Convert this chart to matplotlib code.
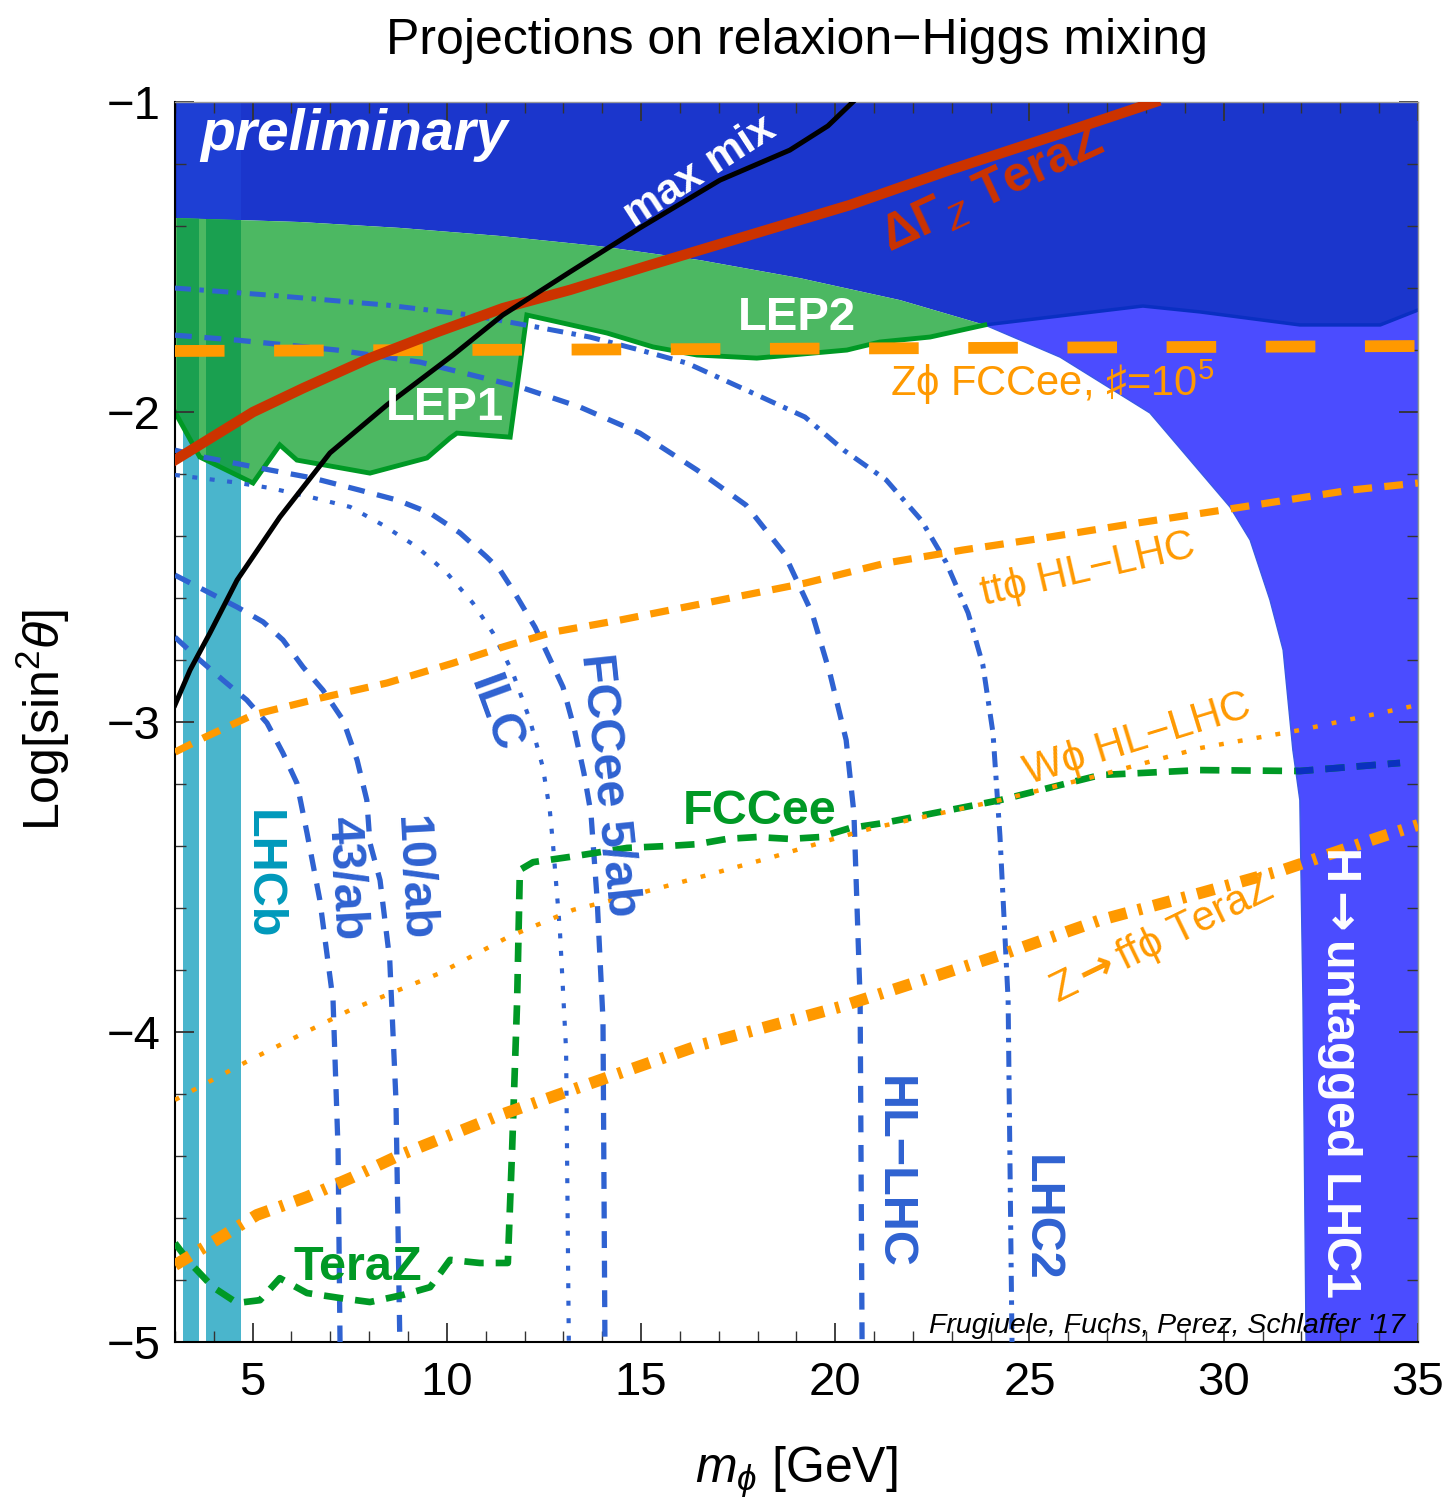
import matplotlib
matplotlib.use("Agg")
import matplotlib.pyplot as plt
from matplotlib.patches import Polygon
from matplotlib.ticker import MultipleLocator

plt.rcParams['font.family'] = ['Liberation Sans', 'DejaVu Sans']
plt.rcParams['mathtext.fontset'] = 'custom'
plt.rcParams['mathtext.rm'] = 'Liberation Sans'
plt.rcParams['mathtext.it'] = 'Liberation Sans:italic'
plt.rcParams['mathtext.bf'] = 'Liberation Sans:bold'
plt.rcParams['mathtext.sf'] = 'DejaVu Sans:bold'

# ---- regions (m_phi [GeV], Log[sin^2 theta]) ----
lep_top_x = [3.00, 6.22, 8.79, 11.37, 13.94, 16.52, 19.09, 21.67, 23.85]
lep_top_y = [-1.374, -1.387, -1.406, -1.432, -1.465, -1.510, -1.568, -1.639, -1.719]

lep_bot_x = [23.85, 22.44, 21.15, 20.30, 17.98, 16.44, 15.31, 14.12, 12.99, 12.06,
             11.63, 10.26, 10.08, 9.49, 8.02, 6.14, 5.70, 5.01, 3.64, 3.00]
lep_bot_y = [-1.719, -1.758, -1.774, -1.800, -1.826, -1.816, -1.790, -1.745, -1.713, -1.687,
             -2.081, -2.068, -2.084, -2.148, -2.197, -2.155, -2.106, -2.229, -2.145, -2.000]

# boundary between old exclusion (top) and H->untagged LHC1
lhc1_top_x = [23.85, 27.92, 29.39, 31.96, 34.03, 35.0]
lhc1_top_y = [-1.719, -1.658, -1.677, -1.719, -1.719, -1.671]
# left edge of H->untagged LHC1
lhc1_edge_x = [23.85, 25.79, 28.10, 30.16, 30.68, 31.19, 31.53, 31.78, 31.96, 32.04, 32.12]
lhc1_edge_y = [-1.719, -1.823, -2.003, -2.306, -2.413, -2.606, -2.768, -3.090, -3.252, -3.897, -5.0]

lhcb_bands = [(3.21, 3.62), (3.80, 4.70)]

# ---- curves ----
maxmix_x = [3.00, 3.39, 3.90, 4.60, 5.70, 6.99, 8.46, 10.16, 11.44, 13.17, 14.97, 17.03, 18.83, 19.81, 20.45]
maxmix_y = [-2.945, -2.832, -2.713, -2.542, -2.339, -2.132, -1.977, -1.816, -1.687, -1.548, -1.406,
            -1.252, -1.155, -1.077, -1.0]

gz_x = [3.00, 5.01, 6.30, 8.02, 9.75, 11.44, 13.17, 15.23, 17.80, 20.38, 22.95, 25.53, 28.23]
gz_y = [-2.155, -2.000, -1.923, -1.826, -1.742, -1.665, -1.606, -1.526, -1.429, -1.332, -1.219, -1.113, -1.0]

zphi_x = [3.0, 16.5, 35.0]
zphi_y = [-1.803, -1.797, -1.787]

tt_x = [3.00, 3.72, 5.01, 6.73, 8.46, 10.16, 11.44, 12.73, 14.46, 19.22, 21.31, 23.29, 25.53, 27.41,
        29.98, 33.25, 35.0]
tt_y = [-3.097, -3.052, -2.977, -2.923, -2.874, -2.810, -2.758, -2.710, -2.671, -2.552, -2.487, -2.445,
        -2.403, -2.365, -2.316, -2.252, -2.229]

w_x = [3.00, 4.93, 7.51, 9.82, 11.57, 13.25, 14.97, 16.70, 18.40, 20.12, 20.97, 24.24, 26.82, 29.39,
       31.96, 35.0]
w_y = [-4.219, -4.090, -3.929, -3.810, -3.694, -3.606, -3.552, -3.494, -3.435, -3.371, -3.342, -3.252,
       -3.171, -3.084, -3.026, -2.945]

zff_x = [3.00, 3.98, 5.11, 6.40, 7.58, 8.79, 11.37, 13.94, 16.52, 20.12, 21.23, 24.24, 26.82, 29.39,
         31.53, 34.03, 35.0]
zff_y = [-4.752, -4.677, -4.590, -4.532, -4.468, -4.397, -4.268, -4.155, -4.042, -3.919, -3.874, -3.752,
         -3.639, -3.552, -3.477, -3.371, -3.332]

fcc_x = [3.00, 3.39, 3.98, 4.60, 5.19, 5.70, 6.40, 7.25, 8.02, 8.87, 9.57, 10.08, 10.85, 11.57, 11.68,
         11.81, 11.88, 12.22, 13.17, 14.64, 15.67, 16.44, 17.21, 17.98, 18.83, 19.61, 20.38, 21.23,
         24.24, 26.82, 29.39, 31.96, 34.54]
fcc_y = [-4.681, -4.745, -4.823, -4.874, -4.865, -4.794, -4.842, -4.858, -4.871, -4.848, -4.823, -4.735,
         -4.745, -4.745, -4.381, -3.897, -3.477, -3.452, -3.435, -3.406, -3.400, -3.394, -3.377, -3.371,
         -3.377, -3.371, -3.342, -3.326, -3.252, -3.171, -3.155, -3.158, -3.132]

lhc2_x = [3.00, 5.45, 8.46, 10.60, 12.32, 13.68, 14.97, 16.18, 17.88, 19.22, 20.22, 21.31, 22.21, 22.85,
          23.42, 23.80, 24.06, 24.24, 24.45, 24.55]
lhc2_y = [-1.600, -1.623, -1.655, -1.687, -1.726, -1.758, -1.800, -1.842, -1.939, -2.016, -2.123, -2.219,
          -2.348, -2.484, -2.648, -2.816, -3.035, -3.368, -3.897, -5.0]

hllhc_x = [3.00, 4.60, 7.17, 9.31, 10.85, 11.88, 13.43, 14.97, 16.44, 17.70, 18.68, 19.40, 19.86, 20.28,
           20.48, 20.64, 20.69]
hllhc_y = [-1.752, -1.768, -1.800, -1.839, -1.887, -1.919, -1.984, -2.068, -2.187, -2.300, -2.455, -2.648,
           -2.842, -3.058, -3.294, -3.897, -5.0]

fcc5_x = [3.00, 3.72, 5.45, 6.55, 7.76, 8.72, 9.57, 10.34, 11.03, 11.37, 11.70, 12.27, 12.99, 13.27,
          13.53, 13.71, 13.87, 14.02, 14.07]
fcc5_y = [-2.123, -2.145, -2.187, -2.213, -2.252, -2.284, -2.326, -2.390, -2.468, -2.510, -2.574, -2.694,
          -2.887, -3.016, -3.165, -3.294, -3.574, -3.961, -5.0]

ilc_x = [3.00, 4.49, 5.45, 6.48, 7.51, 8.36, 9.23, 10.00, 10.67, 11.19, 11.70, 12.14, 12.47, 12.65,
         12.73, 12.91, 13.07, 13.14]
ilc_y = [-2.203, -2.226, -2.245, -2.274, -2.306, -2.365, -2.435, -2.519, -2.616, -2.713, -2.842, -2.994,
         -3.145, -3.284, -3.390, -3.671, -4.058, -5.0]

ab10_x = [3.00, 4.60, 5.27, 5.78, 6.30, 6.81, 7.33, 7.69, 7.94, 8.02, 8.28, 8.53, 8.69, 8.79]
ab10_y = [-2.526, -2.629, -2.677, -2.735, -2.823, -2.897, -2.994, -3.123, -3.252, -3.390, -3.510, -3.768,
          -4.219, -5.0]

ab43_x = [3.00, 3.64, 4.24, 4.85, 5.37, 5.78, 6.14, 6.40, 6.73, 7.07, 7.20, 7.25]
ab43_y = [-2.726, -2.800, -2.865, -2.929, -3.003, -3.100, -3.197, -3.358, -3.574, -3.897, -4.381, -5.0]

dark_blue = '#1b36cc'
light_blue = '#4b4cff'
green_fill = '#4cb862'
green_line = '#009925'
cyan = '#4ab5cc'
blue_line = '#2f62d1'
orange = '#ff9900'
red = '#cc3300'

fig = plt.figure(figsize=(14.47, 15.03), dpi=100)
ax = fig.add_axes([0.1209, 0.1071, 0.8590, 0.8250])
ax.set_xlim(3, 35)
ax.set_ylim(-5, -1)

# LHCb bands (only visible in the white part)
for lo, hi in lhcb_bands:
    ax.axvspan(lo, hi, color=cyan, lw=0, zorder=0.5)

# H -> untagged LHC1
lb_pts = list(zip(lhc1_edge_x, lhc1_edge_y)) + [(35, -5), (35, -1), (23.85, -1)]
lb_patch = Polygon(lb_pts, closed=True, facecolor=light_blue, edgecolor='#3a5ae6', lw=1, zorder=1)
ax.add_patch(lb_patch)

# present exclusion (top)
db_pts = [(3, -1), (35, -1)] + list(zip(lhc1_top_x[::-1], lhc1_top_y[::-1])) + \
    list(zip(lep_top_x[::-1], lep_top_y[::-1]))
db_patch = Polygon(db_pts, closed=True, facecolor=dark_blue, edgecolor='none', zorder=1.1)
ax.add_patch(db_patch)
ax.plot(lhc1_top_x, lhc1_top_y, color='#0a2fc2', lw=2.5, zorder=1.15)

# LEP
lep_pts = list(zip(lep_top_x, lep_top_y)) + list(zip(lep_bot_x, lep_bot_y))
lep_patch = Polygon(lep_pts, closed=True, facecolor=green_fill, edgecolor='none', zorder=1.2)
ax.add_patch(lep_patch)
ax.plot(lep_bot_x, lep_bot_y, color=green_line, lw=3.5, zorder=1.3, solid_joinstyle='miter')

# LHCb band seen through the other regions
for lo, hi in [(3.05, 3.62), (3.80, 4.70)]:
    r = ax.axvspan(lo, hi, color='#1aa050', lw=0, zorder=1.25)
    r.set_clip_path(lep_patch)
r = ax.axvspan(3.05, 4.70, color='#1e3fd4', lw=0, zorder=1.15)
r.set_clip_path(db_patch)

# blue projections
dash_b = (0, (3.2, 2.4))
ax.plot(lhc2_x, lhc2_y, color=blue_line, lw=3.6, ls=(0, (3.2, 1.7, 0.9, 1.7)), zorder=3)
ax.plot(hllhc_x, hllhc_y, color=blue_line, lw=3.8, ls=dash_b, zorder=3)
ax.plot(fcc5_x, fcc5_y, color=blue_line, lw=3.8, ls=dash_b, zorder=3)
ax.plot(ilc_x, ilc_y, color=blue_line, lw=3.0, ls=(0, (1.2, 3.0)), zorder=3)
ax.plot(ab10_x, ab10_y, color=blue_line, lw=3.8, ls=dash_b, zorder=3)
ax.plot(ab43_x, ab43_y, color=blue_line, lw=3.8, ls=dash_b, zorder=3)

# green FCCee / TeraZ
ax.plot(fcc_x, fcc_y, color=green_line, lw=4.8, ls=(0, (2.9, 1.8)), zorder=3)
nv, = ax.plot(fcc_x, fcc_y, color='#0a30c0', lw=4.8, ls=(0, (2.9, 1.8)), zorder=3.1)
nv.set_clip_path(lb_patch)

# orange projections
ax.plot(zphi_x, zphi_y, color=orange, lw=8.5, ls=(0, (4.2, 4.2)), zorder=3.2)
ax.plot(tt_x, tt_y, color=orange, lw=5.2, ls=(0, (2.6, 1.7)), zorder=3.2)
ax.plot(w_x, w_y, color=orange, lw=3.2, ls=(0, (1.1, 3.2)), zorder=3.2)
ax.plot(zff_x, zff_y, color=orange, lw=8.5, ls=(0, (1.5, 1.0, 0.35, 1.0)), zorder=3.2)

# red and black
ax.plot(gz_x, gz_y, color=red, lw=7.5, zorder=3.4)
ax.plot(maxmix_x, maxmix_y, color='black', lw=3.6, zorder=3.5)

# ---- labels ----
bold = dict(fontweight='bold', ha='center', va='center', zorder=5)
ax.text(3.64, -1.106, 'preliminary', color='white', fontsize=41, fontweight='bold',
        fontstyle='italic', ha='left', va='center', zorder=5)
ax.text(16.52, -1.226, 'max mix', color='white', fontsize=31, rotation=33, **bold)
ax.text(24.06, -1.284, 'ΔΓ$_Z$ TeraZ', color=red, fontsize=36, rotation=25, **bold)
ax.text(19.01, -1.697, 'LEP2', color='white', fontsize=34, **bold)
ax.text(9.95, -1.987, 'LEP1', color='white', fontsize=34, **bold)
ax.text(21.41, -1.903, 'Zϕ FCCee, ♯=10$^5$', color=orange, fontsize=30, ha='left', va='center', zorder=5)
ax.text(26.51, -2.510, 'ttϕ HL−LHC', color=orange, fontsize=30, rotation=13,
        ha='center', va='center', zorder=5)
ax.text(27.79, -3.058, 'Wϕ HL−LHC', color=orange, fontsize=30, rotation=17,
        ha='center', va='center', zorder=5)
ax.text(28.41, -3.703, r'Z$\mathsf{\rightarrow}$ffϕ TeraZ', color=orange, fontsize=30, rotation=26,
        ha='center', va='center', zorder=5)
ax.text(18.06, -3.290, 'FCCee', color=green_line, fontsize=35, **bold)
ax.text(7.71, -4.761, 'TeraZ', color=green_line, fontsize=35, **bold)
ax.text(11.24, -2.977, 'ILC', color=blue_line, fontsize=35, rotation=-70, **bold)
ax.text(14.15, -3.203, 'FCCee 5/ab', color=blue_line, fontsize=35, rotation=-84, **bold)
ax.text(7.38, -3.503, '43/ab', color=blue_line, fontsize=35, rotation=-87, **bold)
ax.text(9.13, -3.503, '10/ab', color=blue_line, fontsize=35, rotation=-87, **bold)
ax.text(5.24, -3.494, 'LHCb', color='#0099bb', fontsize=35, rotation=-90, **bold)
ax.text(21.49, -4.452, 'HL−LHC', color=blue_line, fontsize=35, rotation=-90, **bold)
ax.text(25.27, -4.600, 'LHC2', color=blue_line, fontsize=35, rotation=-90, **bold)
ax.text(32.99, -4.129, r'H$\mathsf{\rightarrow}$untagged LHC1', color='white', fontsize=35,
        rotation=-90, **bold)
ax.text(34.67, -4.948, "Frugiuele, Fuchs, Perez, Schlaffer '17", color='black', fontsize=20.5,
        fontstyle='italic', ha='right', va='center', zorder=5)

# ---- axes ----
ax.xaxis.set_major_locator(MultipleLocator(5))
ax.xaxis.set_minor_locator(MultipleLocator(1))
ax.yaxis.set_major_locator(MultipleLocator(1))
ax.yaxis.set_minor_locator(MultipleLocator(0.2))
ax.tick_params(which='both', direction='in', top=True, right=True, labelsize=34, color='#333333')
ax.tick_params(which='major', length=14, width=1.3)
ax.tick_params(which='minor', length=8, width=1)
ax.tick_params(axis='x', pad=14)
ax.tick_params(axis='y', pad=10)
for s in ['top', 'right']:
    ax.spines[s].set_color('#999999')
    ax.spines[s].set_linewidth(1)
for s in ['bottom', 'left']:
    ax.spines[s].set_linewidth(1.5)

ax.set_xlabel(r'$m_\phi$ [GeV]', fontsize=36)
ax.xaxis.set_label_coords(0.5, -0.083)
ax.set_ylabel(r'Log[sin$^2\theta$]', fontsize=36)
ax.yaxis.set_label_coords(-0.083, 0.502)

fig.text(0.551, 0.973, 'Projections on relaxion−Higgs mixing', fontsize=36, ha='center', va='center')

fig.savefig('out.png', dpi=100)
